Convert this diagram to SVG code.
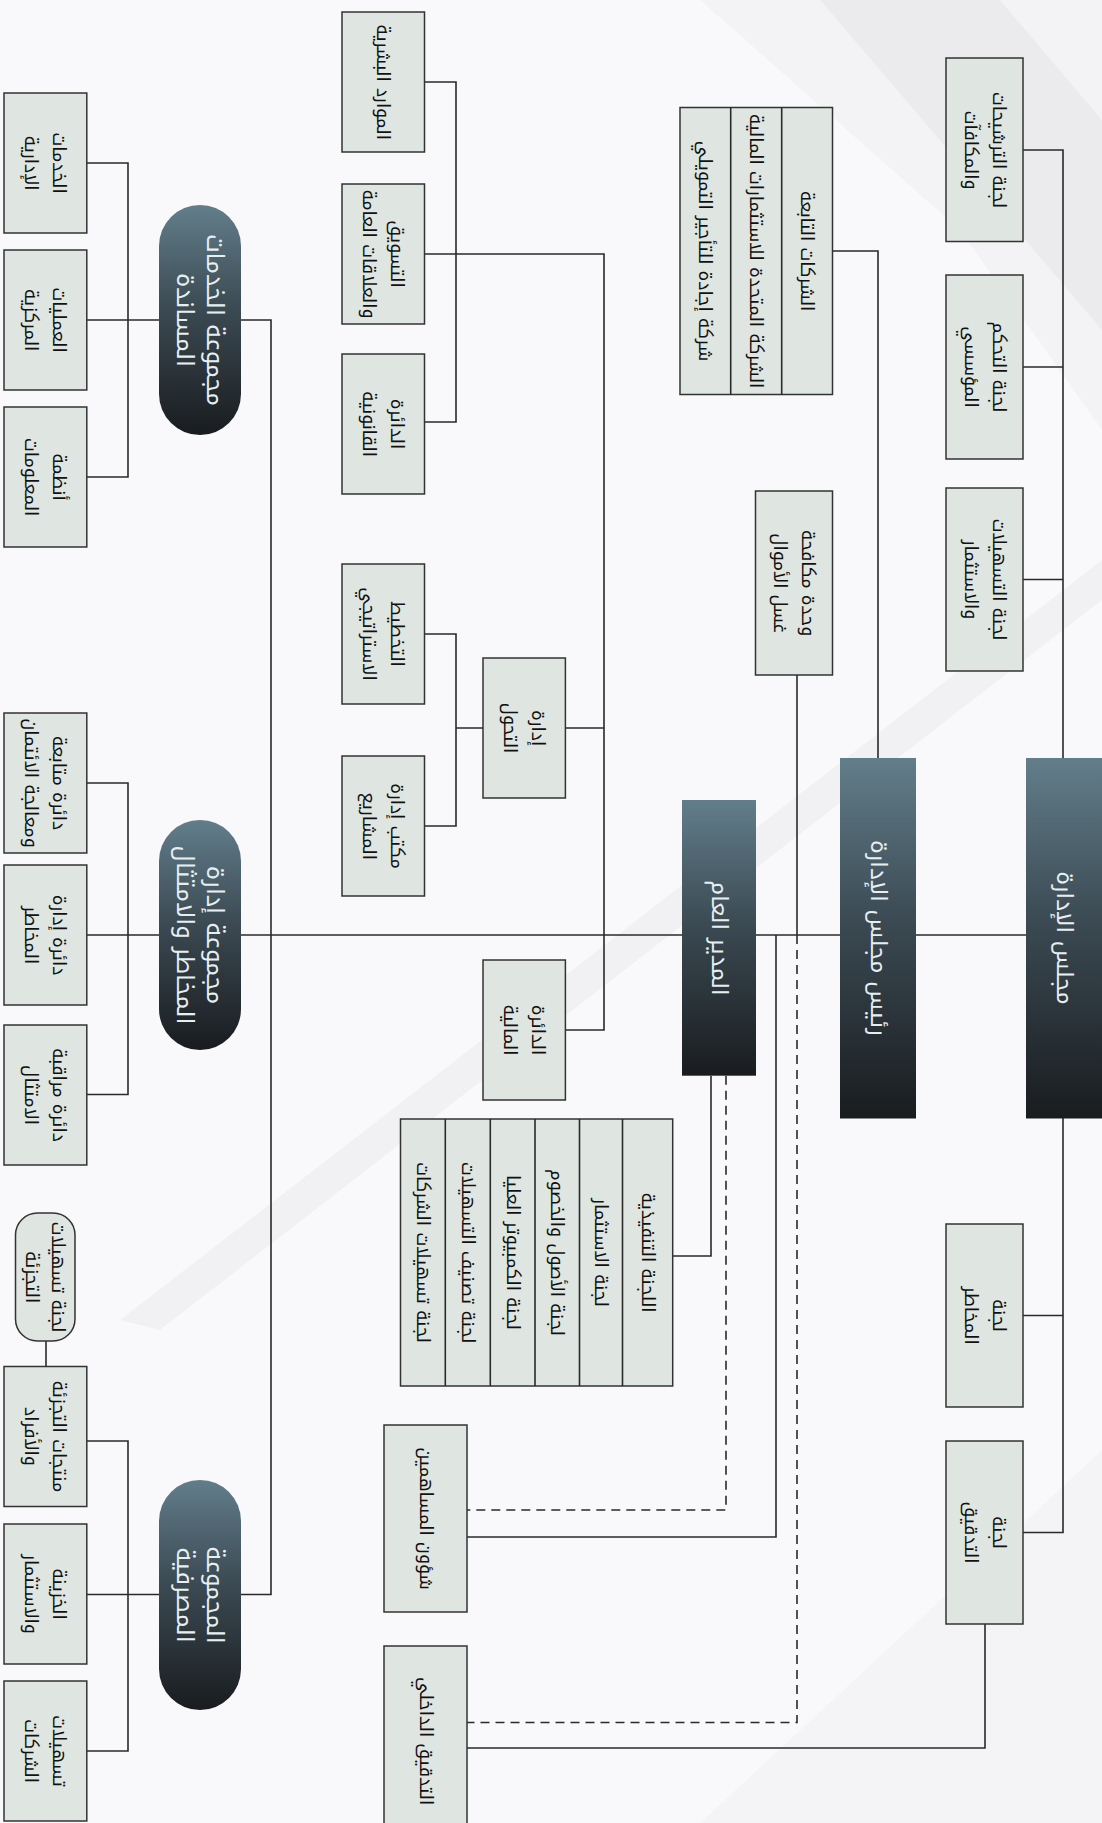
<svg xmlns="http://www.w3.org/2000/svg" width="1102" height="1823" viewBox="0 0 1102 1823">
<defs>
<linearGradient id="dark" x1="0" y1="0" x2="0" y2="1">
<stop offset="0" stop-color="#627e8b"/>
<stop offset="0.45" stop-color="#3b4a53"/>
<stop offset="1" stop-color="#191c1f"/>
</linearGradient>
<style>
.bx{fill:#dfe6e2;stroke:#333;stroke-width:1.5}
.dk{fill:url(#dark)}
.ln{fill:none;stroke:#2a2a2a;stroke-width:1.6}
.ds{fill:none;stroke:#2a2a2a;stroke-width:1.6;stroke-dasharray:9 6}
text{font-family:"Noto Kufi Arabic","DejaVu Sans",sans-serif;text-anchor:middle;dominant-baseline:central}
tspan{dominant-baseline:central}
.t{font-size:18px;fill:#111}
.w{font-size:23px;fill:#e6eef0}
.p{font-size:24px;fill:#e6eef0}
</style>
</defs>
<rect x="0" y="0" width="1102" height="1823" fill="#f9f9fb"/>
<g id="background">
<polygon points="700,0 1102,0 1102,430 960,230" fill="#000" opacity="0.025"/>
<polygon points="820,0 1000,0 1102,120 1102,330" fill="#000" opacity="0.03"/>
<polygon points="1102,560 1102,600 160,1330 120,1320" fill="#000" opacity="0.03"/>
<polygon points="1102,1450 1102,1823 700,1823" fill="#000" opacity="0.02"/>
</g>
<g id="connectors">
<path class="ln" d="M86.8,163H128V477H86.8M86.8,320H159"/>
<path class="ln" d="M86.8,783H128V1094.5H86.8M86.8,935H159"/>
<path class="ln" d="M86.8,1441H128V1751H86.8M86.8,1594.5H159"/>
<path class="ln" d="M46,1341V1366.5"/>
<path class="ln" d="M241,320H271V1594.5H241"/>
<path class="ln" d="M241,935H1026"/>
<path class="ln" d="M424.5,82H456V422H424.5M424.5,254H604V1030H565.4M565.4,728H604"/>
<path class="ln" d="M424.5,634H456V826H424.5M456,728H483"/>
<path class="ln" d="M832.5,251H878V758"/>
<path class="ln" d="M797,675V935"/>
<path class="ln" d="M711,1075.7V1256H672.7"/>
<path class="ds" d="M726,1075.7V1510H467"/>
<path class="ln" d="M776,935V1537H467"/>
<path class="ds" d="M797,935V1722.5H467"/>
<path class="ln" d="M985,1624V1748H467"/>
<path class="ln" d="M1023,150H1063V1532.5H1023M1023,367H1063M1023,579.5H1063M1023,1315.5H1063"/>
</g>
<g id="n_admin"><rect class="bx" x="4" y="93" width="82.8" height="140"/><text class="t" transform="translate(45.4 163) rotate(90)"><tspan x="0" y="-14">الخدمات</tspan><tspan x="0" y="14">الإدارية</tspan></text></g>
<g id="n_ops"><rect class="bx" x="4" y="250" width="82.8" height="140"/><text class="t" transform="translate(45.4 320) rotate(90)"><tspan x="0" y="-14">العمليات</tspan><tspan x="0" y="14">المركزية</tspan></text></g>
<g id="n_is"><rect class="bx" x="4" y="407" width="82.8" height="140"/><text class="t" transform="translate(45.4 477) rotate(90)"><tspan x="0" y="-14">أنظمة</tspan><tspan x="0" y="14">المعلومات</tspan></text></g>
<g id="n_credit"><rect class="bx" x="4" y="713" width="82.8" height="140"/><text class="t" transform="translate(45.4 783) rotate(90)"><tspan x="0" y="-14">دائرة متابعة</tspan><tspan x="0" y="14">ومعالجة الائتمان</tspan></text></g>
<g id="n_riskdept"><rect class="bx" x="4" y="865" width="82.8" height="140"/><text class="t" transform="translate(45.4 935) rotate(90)"><tspan x="0" y="-14">دائرة إدارة</tspan><tspan x="0" y="14">المخاطر</tspan></text></g>
<g id="n_compliance"><rect class="bx" x="4" y="1025" width="82.8" height="140"/><text class="t" transform="translate(45.4 1095) rotate(90)"><tspan x="0" y="-14">دائرة مراقبة</tspan><tspan x="0" y="14">الامتثال</tspan></text></g>
<g id="n_retailcomm"><rect class="bx" x="15.5" y="1213" width="59.5" height="128" rx="22" ry="22"/><text class="t" transform="translate(45.3 1277) rotate(90)"><tspan x="0" y="-13">لجنة تسهيلات</tspan><tspan x="0" y="13">التجزئة</tspan></text></g>
<g id="n_retail"><rect class="bx" x="4" y="1366.5" width="82.8" height="140"/><text class="t" transform="translate(45.4 1436.5) rotate(90)"><tspan x="0" y="-14">منتجات التجزئة</tspan><tspan x="0" y="14">والأفراد</tspan></text></g>
<g id="n_treasury"><rect class="bx" x="4" y="1524" width="82.8" height="140"/><text class="t" transform="translate(45.4 1594) rotate(90)"><tspan x="0" y="-14">الخزينة</tspan><tspan x="0" y="14">والاستثمار</tspan></text></g>
<g id="n_corp"><rect class="bx" x="4" y="1681" width="82.8" height="140"/><text class="t" transform="translate(45.4 1751) rotate(90)"><tspan x="0" y="-14">تسهيلات</tspan><tspan x="0" y="14">الشركات</tspan></text></g>
<g id="p_support"><rect class="dk" x="159" y="205" width="82" height="230" rx="41" ry="41"/><text class="p" transform="translate(200 320) rotate(90)"><tspan x="0" y="-15">مجموعة الخدمات</tspan><tspan x="0" y="15">المساندة</tspan></text></g>
<g id="p_risk"><rect class="dk" x="159" y="820" width="82" height="230" rx="41" ry="41"/><text class="p" transform="translate(200 935) rotate(90)"><tspan x="0" y="-15">مجموعة إدارة</tspan><tspan x="0" y="15">المخاطر والامتثال</tspan></text></g>
<g id="p_banking"><rect class="dk" x="159" y="1480" width="82" height="230" rx="41" ry="41"/><text class="p" transform="translate(200 1595) rotate(90)"><tspan x="0" y="-15">المجموعة</tspan><tspan x="0" y="15">المصرفية</tspan></text></g>
<g id="n_hr"><rect class="bx" x="342" y="12" width="82.5" height="140"/><text class="t" transform="translate(383.3 82) rotate(90)">الموارد البشرية</text></g>
<g id="n_marketing"><rect class="bx" x="342" y="184" width="82.5" height="140"/><text class="t" transform="translate(383.3 254) rotate(90)"><tspan x="0" y="-14">التسويق</tspan><tspan x="0" y="14">والعلاقات العامة</tspan></text></g>
<g id="n_legal"><rect class="bx" x="342" y="354" width="82.5" height="140"/><text class="t" transform="translate(383.3 424) rotate(90)"><tspan x="0" y="-14">الدائرة</tspan><tspan x="0" y="14">القانونية</tspan></text></g>
<g id="n_strategy"><rect class="bx" x="342" y="564" width="82.5" height="140"/><text class="t" transform="translate(383.3 634) rotate(90)"><tspan x="0" y="-14">التخطيط</tspan><tspan x="0" y="14">الاستراتيجي</tspan></text></g>
<g id="n_pmo"><rect class="bx" x="342" y="756" width="82.5" height="140"/><text class="t" transform="translate(383.3 826) rotate(90)"><tspan x="0" y="-14">مكتب إدارة</tspan><tspan x="0" y="14">المشاريع</tspan></text></g>
<g id="n_transformation"><rect class="bx" x="483" y="658" width="82.4" height="140"/><text class="t" transform="translate(524.2 728) rotate(90)"><tspan x="0" y="-14">إدارة</tspan><tspan x="0" y="14">التحول</tspan></text></g>
<g id="n_finance"><rect class="bx" x="483" y="960" width="82.4" height="140"/><text class="t" transform="translate(524.2 1030) rotate(90)"><tspan x="0" y="-14">الدائرة</tspan><tspan x="0" y="14">المالية</tspan></text></g>
<g id="n_mgmtcommittees">
<rect class="bx" x="400.5" y="1119" width="272.2" height="267"/>
<path class="ln" d="M445.3,1119V1386M490.3,1119V1386M535,1119V1386M579.5,1119V1386M622.5,1119V1386" stroke="#333" stroke-width="1.5"/>
<text class="t" transform="translate(423 1252.5) rotate(90)">لجنة تسهيلات الشركات</text>
<text class="t" transform="translate(467.8 1252.5) rotate(90)">لجنة تصنيف التسهيلات</text>
<text class="t" transform="translate(512.6 1252.5) rotate(90)">لجنة الكمبيوتر العليا</text>
<text class="t" transform="translate(557.2 1252.5) rotate(90)">لجنة الأصول والخصوم</text>
<text class="t" transform="translate(601 1252.5) rotate(90)">لجنة الاستثمار</text>
<text class="t" transform="translate(647.6 1252.5) rotate(90)">اللجنة التنفيذية</text>
</g>
<g id="n_shareholders"><rect class="bx" x="384" y="1425" width="83" height="187"/><text class="t" transform="translate(425.5 1518.5) rotate(90)">شؤون المساهمين</text></g>
<g id="n_internalaudit"><rect class="bx" x="384" y="1646" width="83" height="190"/><text class="t" transform="translate(425.5 1741) rotate(90)">التدقيق الداخلي</text></g>
<g id="n_subsidiaries">
<rect class="bx" x="680" y="107.5" width="152.5" height="287"/>
<path class="ln" d="M730.7,107.5V394.5M781.7,107.5V394.5" stroke="#333" stroke-width="1.5"/>
<text class="t" transform="translate(807.1 251) rotate(90)">الشركات التابعة</text>
<text class="t" transform="translate(756.2 251) rotate(90)">الشركة المتحدة للاستثمارات المالية</text>
<text class="t" transform="translate(705.4 251) rotate(90)">شركة إجادة للتأجير التمويلي</text>
</g>
<g id="n_aml"><rect class="bx" x="755.5" y="491" width="77" height="184"/><text class="t" transform="translate(794 583) rotate(90)"><tspan x="0" y="-14">وحدة مكافحة</tspan><tspan x="0" y="14">غسل الأموال</tspan></text></g>
<g id="n_ceo"><rect class="dk" x="682" y="800" width="74" height="275.7"/><text class="w" transform="translate(719 938) rotate(90)">المدير العام</text></g>
<g id="n_chairman"><rect class="dk" x="840" y="758" width="76" height="360.5"/><text class="w" transform="translate(878 938) rotate(90)">رئيس مجلس الإدارة</text></g>
<g id="n_board"><rect class="dk" x="1026" y="758" width="76" height="360.5"/><text class="w" transform="translate(1064 938) rotate(90)">مجلس الإدارة</text></g>
<g id="n_nomination"><rect class="bx" x="946" y="58" width="77" height="183.5"/><text class="t" transform="translate(984.5 150) rotate(90)"><tspan x="0" y="-14">لجنة الترشيحات</tspan><tspan x="0" y="14">والمكافآت</tspan></text></g>
<g id="n_governance"><rect class="bx" x="946" y="275" width="77" height="184"/><text class="t" transform="translate(984.5 367) rotate(90)"><tspan x="0" y="-14">لجنة التحكم</tspan><tspan x="0" y="14">المؤسسي</tspan></text></g>
<g id="n_creditinv"><rect class="bx" x="946" y="488" width="77" height="183"/><text class="t" transform="translate(984.5 579.5) rotate(90)"><tspan x="0" y="-14">لجنة التسهيلات</tspan><tspan x="0" y="14">والاستثمار</tspan></text></g>
<g id="n_riskcomm"><rect class="bx" x="946" y="1224" width="77" height="183"/><text class="t" transform="translate(984.5 1315.5) rotate(90)"><tspan x="0" y="-14">لجنة</tspan><tspan x="0" y="14">المخاطر</tspan></text></g>
<g id="n_auditcomm"><rect class="bx" x="946" y="1441" width="77" height="183"/><text class="t" transform="translate(984.5 1532.5) rotate(90)"><tspan x="0" y="-14">لجنة</tspan><tspan x="0" y="14">التدقيق</tspan></text></g>
</svg>
